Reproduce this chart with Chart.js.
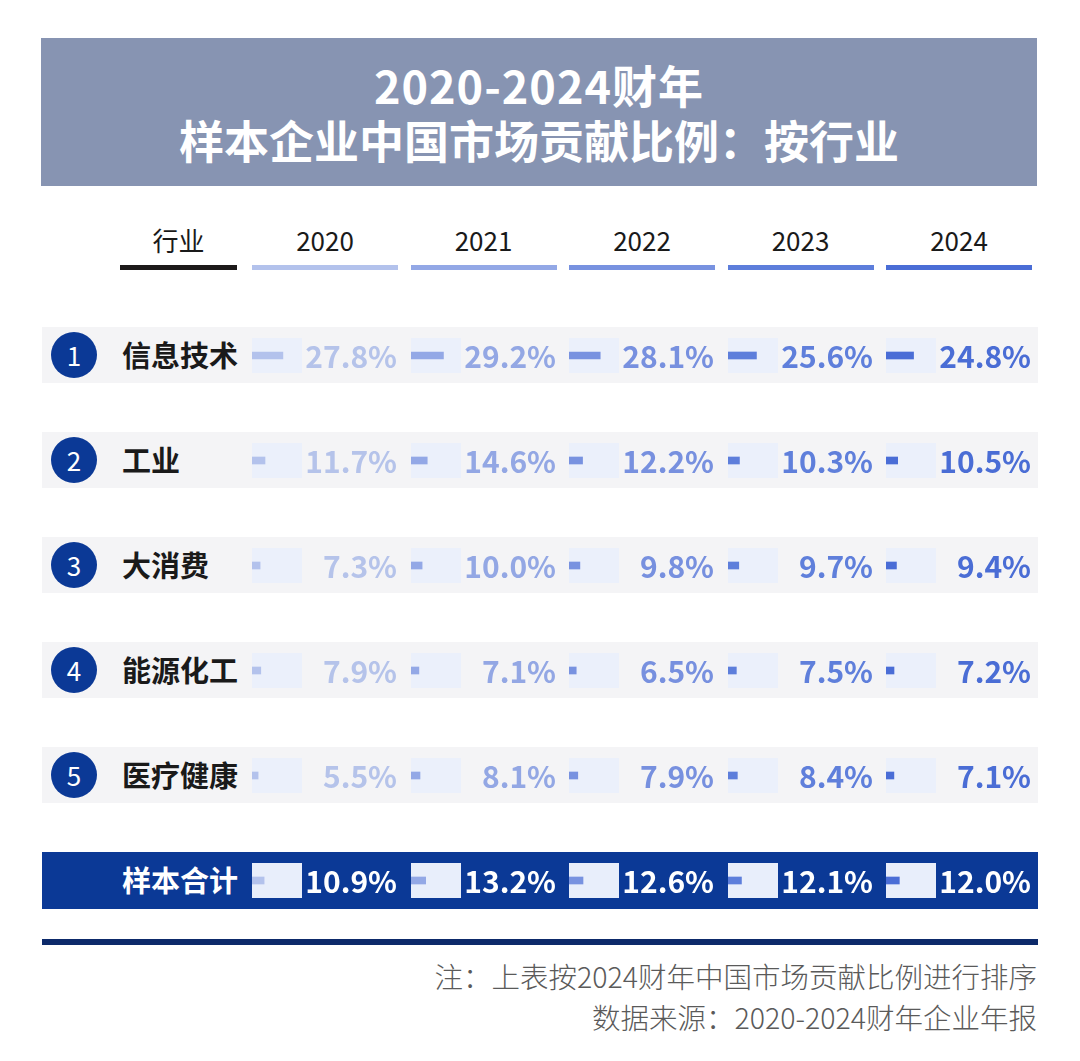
<!DOCTYPE html>
<html>
<head>
<meta charset="utf-8">
<script src="https://cdn.jsdelivr.net/npm/chart.js@4.4.1/dist/chart.umd.min.js"></script>
<style>
  body { margin: 0; background: #fff; font-family: "Noto Sans CJK SC", "Noto Sans", sans-serif; }
  #page { position: relative; width: 1080px; height: 1061px; overflow: hidden; }
  .abs { position: absolute; }
  #title { left: 41px; top: 38px; width: 996px; height: 148px; background: #8794b2; color: #fff;
           font-weight: 700; font-size: 45px; line-height: 55px; text-align: center; padding-top: 19px; box-sizing: border-box; }
  #title .l1 { letter-spacing: 1px; }
  .hdr { font-size: 26px; color: #1a1a1a; text-align: center; top: 222px; line-height: 36px; }
  .uline { height: 5px; top: 265px; }
  .band { left: 42px; width: 996px; height: 56px; background: #f4f4f6; }
  .circle { width: 46px; height: 46px; border-radius: 50%; background: #0b3996; color: #fff;
            font-size: 26px; line-height: 46px; text-align: center; left: 51px; }
  .label { left: 122px; font-size: 29px; font-weight: 700; color: #1a1a1a; line-height: 40px; }
  .foot { right: 43px; font-size: 28.5px; font-weight: 300; color: #5a5a5a; line-height: 36px; white-space: nowrap; }
  canvas.col { position: absolute; }
</style>
</head>
<body>
<div id="page">
  <div id="title" class="abs"><span class="l1">2020-2024财年</span><br>样本企业中国市场贡献比例：按行业</div>
</div>
<script>
const industries = ['信息技术', '工业', '大消费', '能源化工', '医疗健康', '样本合计'];
const years = ['2020', '2021', '2022', '2023', '2024'];
const share2020 = [27.8, 11.7, 7.3, 7.9, 5.5, 10.9];
const share2021 = [29.2, 14.6, 10.0, 7.1, 8.1, 13.2];
const share2022 = [28.1, 12.2, 9.8, 6.5, 7.9, 12.6];
const share2023 = [25.6, 10.3, 9.7, 7.5, 8.4, 12.1];
const share2024 = [24.8, 10.5, 9.4, 7.2, 7.1, 12.0];
const shares = [share2020, share2021, share2022, share2023, share2024];

const colColors = ['#b3c2ec', '#93a8e6', '#7892e0', '#5d7edb', '#4a6dd6'];
const textColors = ['#b5c3ea', '#93a7e4', '#7790df', '#5f7fdb', '#4a6dd5'];
const colLeft = [252, 410.5, 569, 727.5, 886];
const rowTop = 302.5, rowH = 105;

const page = document.getElementById('page');
function add(cls, css, text) {
    const d = document.createElement('div');
    d.className = 'abs ' + cls;
    Object.assign(d.style, css);
    if (text != null) d.textContent = text;
    page.appendChild(d);
    return d;
}

// header row
add('hdr', {left: '120px', width: '117px'}, '行业');
add('uline', {left: '120px', width: '117px', background: '#1d1a1a'});
years.forEach((y, i) => {
    add('hdr', {left: colLeft[i] + 'px', width: '146px'}, y);
    add('uline', {left: colLeft[i] + 'px', width: '146px', background: colColors[i]});
});

// row bands, badges, labels
industries.forEach((name, k) => {
    const cy = rowTop + rowH * (k + 0.5);
    const last = k === industries.length - 1;
    add('band', {top: (cy - 28) + 'px', background: last ? '#0b3996' : '#f4f4f6', height: last ? '57px' : '56px'});
    if (!last) add('circle', {top: (cy - 23) + 'px'}, String(k + 1));
    add('label', {top: (cy - 21) + 'px', color: last ? '#fff' : '#1a1a1a'}, name);
});

add('', {left: '42px', top: '939px', width: '996px', height: '6px', background: '#0d2a6a'});
add('foot', {top: '958px'}, '注：上表按2024财年中国市场贡献比例进行排序');
add('foot', {top: '999px'}, '数据来源：2020-2024财年企业年报');

// light track box behind each mini bar + value text
const cellPlugin = {
    id: 'cell',
    beforeDatasetsDraw(chart) {
        const {ctx, scales: {x, y}} = chart;
        ctx.save();
        chart.data.labels.forEach((lab, k) => {
            const cy = y.getPixelForValue(k);
            ctx.fillStyle = k === chart.data.labels.length - 1 ? '#e8eefb' : '#ebf0fb';
            ctx.fillRect(x.left, cy - 17.5, x.right - x.left, 35);
        });
        ctx.restore();
    },
    afterDatasetsDraw(chart, args, opts) {
        const {ctx, scales: {y}} = chart;
        const data = chart.data.datasets[0].data;
        ctx.save();
        ctx.font = '700 30px "Noto Sans CJK SC", "Noto Sans", sans-serif';
        ctx.textAlign = 'right';
        ctx.textBaseline = 'middle';
        data.forEach((v, k) => {
            ctx.fillStyle = k === data.length - 1 ? '#ffffff' : opts.color;
            ctx.fillText(v.toFixed(1) + '%', chart.width - 1, y.getPixelForValue(k) + 1);
        });
        ctx.restore();
    }
};

shares.forEach((vals, i) => {
    const cv = document.createElement('canvas');
    cv.className = 'col';
    cv.width = 146;
    cv.height = rowH * industries.length;
    cv.style.left = colLeft[i] + 'px';
    cv.style.top = rowTop + 'px';
    page.appendChild(cv);
    new Chart(cv, {
        type: 'bar',
        data: {
            labels: industries,
            datasets: [{
                label: years[i],
                data: vals,
                backgroundColor: colColors[i],
                barThickness: 7,
                borderWidth: 0
            }]
        },
        options: {
            indexAxis: 'y',
            responsive: false,
            animation: false,
            layout: {padding: {left: 0, right: 96, top: 0, bottom: 0}},
            scales: {
                x: {display: false, min: 0, max: 45},
                y: {display: false}
            },
            plugins: {
                legend: {display: false},
                tooltip: {enabled: false},
                cell: {color: textColors[i]}
            }
        },
        plugins: [cellPlugin]
    });
});
</script>
</body>
</html>
